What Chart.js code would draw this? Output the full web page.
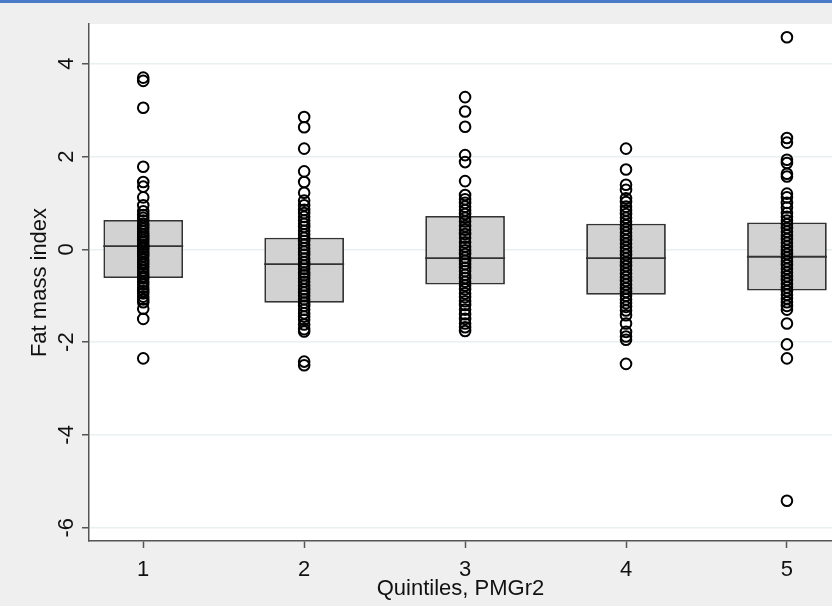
<!DOCTYPE html>
<html>
<head>
<meta charset="utf-8">
<script src="https://cdn.jsdelivr.net/npm/chart.js@4/dist/chart.umd.min.js"></script>
<style>
  html, body { margin: 0; padding: 0; background: #efefef; }
  #wrap { position: relative; width: 832px; height: 606px; }
  #topline { position: absolute; left: 0; top: 0; width: 832px; height: 3px; background: #4a7bc8; }
</style>
</head>
<body>
<div id="wrap">
  <canvas id="chart" width="832" height="606"></canvas>
  <div id="topline"></div>
</div>
<script>
// ----------------------------------------
// Fat mass index by PMGr2 quintile (box + points)
// ----------------------------------------

const quintiles = [1, 2, 3, 4, 5];
const yTicks = [-6, -4, -2, 0, 2, 4];

// box edges (25th / 75th percentile) and medians
const boxLow = [-0.62, -1.15, -0.76, -0.98, -0.89];
const boxHigh = [0.63, 0.25, 0.72, 0.55, 0.58];
const medians = [0.07, -0.32, -0.19, -0.19, -0.16];

// individual observations per quintile
const q1Points = [3.70, 3.63, 3.05, 1.78, 1.45, 1.35, 1.12, 0.95, 0.82, 0.74, 0.68, 0.62, 0.55, 0.50, 0.44,
    0.38, 0.31, 0.26, 0.20, 0.15, 0.10, 0.05, 0.02, -0.04, -0.10, -0.15, -0.22, -0.28, -0.33, -0.40,
    -0.46, -0.52, -0.58, -0.63, -0.70, -0.76, -0.83, -0.90, -0.95, -1.02, -1.08, -1.14, -1.28, -1.50, -2.35];
const q2Points = [2.85, 2.63, 2.17, 1.68, 1.45, 1.22, 1.05, 0.95, 0.85, 0.78, 0.70, 0.62, 0.55, 0.48, 0.40,
    0.32, 0.25, 0.18, 0.10, 0.02, -0.05, -0.12, -0.20, -0.28, -0.35, -0.42, -0.50, -0.56, -0.63, -0.70,
    -0.78, -0.86, -0.93, -1.00, -1.08, -1.15, -1.22, -1.30, -1.38, -1.45, -1.52, -1.62, -1.72, -1.77, -2.42, -2.50];
const q3Points = [3.28, 2.97, 2.64, 2.03, 1.88, 1.47, 1.17, 1.08, 1.00, 0.92, 0.84, 0.76, 0.68, 0.60, 0.50,
    0.42, 0.33, 0.25, 0.15, 0.06, -0.02, -0.10, -0.18, -0.25, -0.32, -0.40, -0.47, -0.55, -0.62, -0.70,
    -0.78, -0.86, -0.95, -1.03, -1.12, -1.20, -1.30, -1.40, -1.50, -1.60, -1.68, -1.76];
const q4Points = [2.17, 1.72, 1.39, 1.28, 1.10, 1.02, 0.92, 0.84, 0.76, 0.68, 0.60, 0.52, 0.44, 0.36, 0.28,
    0.20, 0.12, 0.04, -0.04, -0.12, -0.20, -0.28, -0.36, -0.44, -0.52, -0.60, -0.68, -0.76, -0.84, -0.92,
    -1.00, -1.08, -1.16, -1.24, -1.32, -1.42, -1.60, -1.78, -1.88, -1.95, -2.47];
const q5Points = [4.57, 2.40, 2.30, 1.93, 1.86, 1.63, 1.57, 1.20, 1.12, 1.00, 0.90, 0.78, 0.70, 0.62, 0.54,
    0.46, 0.38, 0.30, 0.22, 0.14, 0.06, -0.02, -0.10, -0.18, -0.26, -0.34, -0.42, -0.50, -0.58, -0.66,
    -0.74, -0.82, -0.90, -0.98, -1.06, -1.14, -1.22, -1.30, -1.60, -2.05, -2.35, -5.42];

const groups = [q1Points, q2Points, q3Points, q4Points, q5Points];

// Build datasets
const boxData = quintiles.map((q, i) => ({ x: q, y: [boxLow[i], boxHigh[i]] }));
const medianData = quintiles.map((q, i) => ({ x: q, y: medians[i] }));
const pointData = [];
groups.forEach((vals, i) => {
    vals.forEach(v => pointData.push({ x: quintiles[i], y: v }));
});

const axisColor = '#555555';
const font = { family: "'Liberation Sans', Arial, sans-serif", size: 22 };

// white plot region
const plotBackground = {
    id: 'plotBackground',
    beforeDraw(chart) {
        const { ctx, chartArea: a } = chart;
        ctx.save();
        ctx.fillStyle = '#ffffff';
        ctx.fillRect(a.left, a.top, a.right - a.left, a.bottom - a.top);
        ctx.restore();
    }
};

new Chart(document.getElementById('chart'), {
    data: {
        datasets: [
            {
                type: 'scatter',
                data: pointData,
                pointStyle: 'circle',
                pointRadius: 5.3,
                pointBackgroundColor: 'rgba(0,0,0,0)',
                pointBorderColor: '#000000',
                pointBorderWidth: 2,
                order: 0
            },
            {
                type: 'scatter',
                data: medianData,
                pointStyle: 'line',
                pointRadius: 40,
                pointBorderColor: '#333333',
                pointBorderWidth: 1.8,
                order: 1
            },
            {
                type: 'bar',
                data: boxData,
                backgroundColor: '#d2d2d2',
                borderColor: '#333333',
                borderWidth: 1.8,
                borderSkipped: false,
                barPercentage: 0.495,
                categoryPercentage: 1,
                order: 2
            }
        ]
    },
    options: {
        responsive: false,
        animation: false,
        events: [],
        layout: { autoPadding: false, padding: { top: 24, right: 0, bottom: 0, left: 0 } },
        plugins: {
            legend: { display: false },
            tooltip: { enabled: false }
        },
        scales: {
            x: {
                type: 'linear',
                min: 0.663,
                max: 5.28,
                offset: false,
                afterBuildTicks: scale => { scale.ticks = quintiles.map(v => ({ value: v })); },
                afterFit: scale => {
                    scale.height = 65;
                    scale.paddingLeft = 0;
                    scale.paddingRight = 0;
                },
                grid: { offset: false, drawOnChartArea: false, tickLength: 7, tickColor: axisColor, tickWidth: 1.5 },
                border: { color: axisColor, width: 1.5 },
                ticks: { font: font, color: '#111111', padding: 9, maxRotation: 0 },
                title: {
                    display: true,
                    text: 'Quintiles, PMGr2',
                    font: font,
                    color: '#111111',
                    padding: { top: 0, bottom: 4 }
                }
            },
            y: {
                type: 'linear',
                min: -6.287,
                max: 4.856,
                afterBuildTicks: scale => { scale.ticks = yTicks.map(v => ({ value: v })); },
                afterFit: scale => {
                    scale.width = 89;
                    scale.paddingTop = 0;
                    scale.paddingBottom = 0;
                },
                grid: { color: '#e8f0f2', lineWidth: 1.5, tickLength: 7, tickColor: axisColor, tickWidth: 1.5 },
                border: { color: axisColor, width: 1.5 },
                ticks: { font: font, color: '#111111', padding: 5, minRotation: 90, maxRotation: 90, crossAlign: 'center' },
                title: {
                    display: true,
                    text: 'Fat mass index',
                    font: font,
                    color: '#111111',
                    padding: { top: 27, bottom: 0 }
                }
            }
        }
    },
    plugins: [plotBackground]
});
</script>
</body>
</html>
